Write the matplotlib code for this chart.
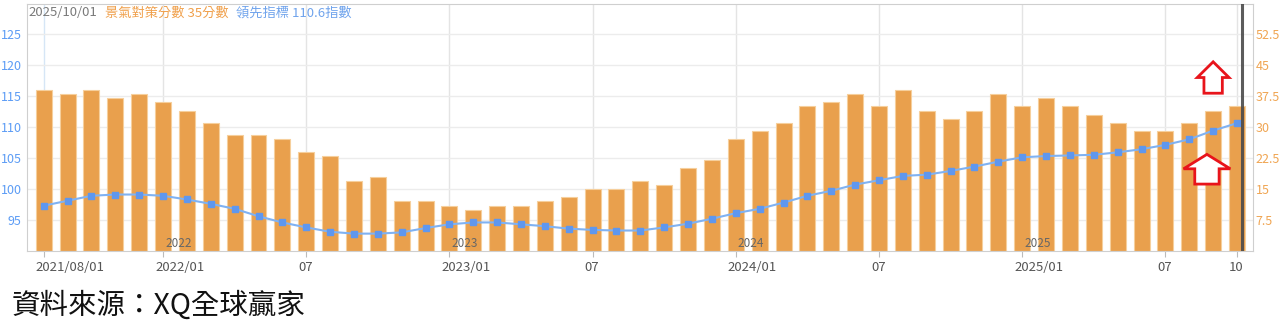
"""Taiwan business-cycle score (bars) vs leading index (line), 2021/08 - 2025/10."""
import matplotlib

matplotlib.use("Agg")
import matplotlib.pyplot as plt
from matplotlib.patches import Polygon
from matplotlib.transforms import ScaledTranslation

plt.rcParams["font.family"] = ["Noto Sans CJK TC", "DejaVu Sans"]

# monthly values, 2021/08 .. 2025/10
scores = [39, 38, 39, 37, 38, 36, 34, 31, 28, 28, 27, 24, 23,
          17, 18, 12, 12, 11, 10, 11, 11, 12, 13, 15, 15, 17,
          16, 20, 22, 27, 29, 31, 35, 36, 38, 35, 39, 34,
          32, 34, 38, 35, 37, 35, 33, 31, 29, 29, 31, 34, 35]
leading = [97.3, 98.1, 98.9, 99.1, 99.1, 98.9, 98.3, 97.6, 96.8, 95.6, 94.6, 93.8, 93.1,
           92.8, 92.8, 93.0, 93.7, 94.3, 94.6, 94.6, 94.3, 94.0, 93.6, 93.4, 93.3, 93.3,
           93.8, 94.4, 95.2, 96.1, 96.8, 97.8, 98.9, 99.7, 100.7, 101.4, 102.1, 102.3,
           102.9, 103.6, 104.4, 105.1, 105.3, 105.4, 105.5, 105.9, 106.4, 107.1, 108.0, 109.4, 110.6]

tick_pos = [0, 5, 11, 17, 23, 29, 35, 41, 47, 50]
tick_labels = ["2021/08/01", "2022/01", "07", "2023/01", "07", "2024/01", "07", "2025/01", "07", "10"]
year_pos = [5, 17, 29, 41]
year_labels = ["2022", "2023", "2024", "2025"]
left_ticks = [95, 100, 105, 110, 115, 120, 125]
right_ticks = [7.5, 15, 22.5, 30, 37.5, 45, 52.5]

BAR = "#e9a04d"
LINE = "#80b2f2"
MARK = "#5f97ee"
RED = "#e8141b"


def up_arrow(ax, xc, y_bot, y_top, head_w, shaft_w, head_h):
    """outlined up arrow in data coords of ax"""
    yb = y_top - head_h
    pts = [(xc - shaft_w / 2, y_bot), (xc - shaft_w / 2, yb), (xc - head_w / 2, yb),
           (xc, y_top), (xc + head_w / 2, yb), (xc + shaft_w / 2, yb), (xc + shaft_w / 2, y_bot)]
    ax.add_patch(Polygon(pts, closed=True, facecolor="white", edgecolor=RED,
                         lw=2, zorder=6, clip_on=False))


fig = plt.figure(figsize=(12.8, 3.35), dpi=100)
ax = fig.add_axes([27 / 1280, 84 / 335, 1226 / 1280, 247 / 335])
ax2 = ax.twinx()   # twinx resets tick sides, so set them afterwards
x = list(range(len(scores)))

# bars: score, right-hand scale
ax.bar(x, scores, width=0.67, color=BAR, edgecolor="#f6cf9c", linewidth=0.8, zorder=2)
ax.set_xlim(-0.7, 50.67)
ax.set_ylim(0, 59.8)
ax.yaxis.tick_right()
ax.set_yticks(right_ticks, [f"{v:g}" for v in right_ticks])
ax.tick_params(axis="y", length=0, pad=2, labelsize=9, labelcolor="#f0a552")
ax.set_xticks(tick_pos, tick_labels)
ax.tick_params(axis="x", length=4, color="#bbbbbb", pad=3, labelsize=9.5, labelcolor="#555555")
off = ScaledTranslation(-8 / 100, 0, fig.dpi_scale_trans)
for lab in ax.get_xticklabels():
    lab.set_horizontalalignment("left")
    lab.set_transform(lab.get_transform() + off)
ax.grid(axis="y", color="#ececec", lw=1)
ax.grid(axis="x", color="#e4e4e4", lw=1)
ax.get_xgridlines()[0].set_color("#d6e6f6")
ax.set_axisbelow(True)
for s in ax.spines.values():
    s.set_color("#cfcfcf")

for p, s in zip(year_pos, year_labels):
    ax.annotate(s, (p, 0), xytext=(1.5, 0.5), textcoords="offset points",
                ha="left", va="bottom", fontsize=8.5, color="#666666", zorder=4)

# line: leading index, left-hand scale
ax2.plot(x, leading, color=LINE, lw=1.5, marker="s", ms=5, mfc=MARK, mec=MARK, zorder=3)
ax2.set_ylim(90, 129.8)
ax2.yaxis.tick_left()
ax2.set_yticks(left_ticks)
ax2.tick_params(axis="y", length=0, pad=4, labelsize=9, labelcolor="#5c9cf5")
for s in ax2.spines.values():
    s.set_visible(False)

# cursor on the latest month
ax2.axvline(len(scores) - 1 + 0.22, color="#4a4a4a", lw=2.2, alpha=0.9, zorder=5)

up_arrow(ax, 49.0, 38.2, 45.8, 1.33, 0.77, 3.8)
up_arrow(ax, 48.74, 16.2, 23.4, 1.96, 1.02, 3.5)

ax2.text(0.001, 0.964, "2025/10/01", transform=ax2.transAxes, va="center",
         fontsize=9.5, color="#7a7a7a")
ax2.text(0.0636, 0.964, f"景氣對策分數 {scores[-1]}分數", transform=ax2.transAxes, va="center",
         fontsize=9.5, color="#f0a04b")
ax2.text(0.1705, 0.964, f"領先指標 {leading[-1]}指數", transform=ax2.transAxes, va="center",
         fontsize=9.5, color="#6fa3ec")

fig.text(12 / 1280, 0.087, "資料來源：XQ全球贏家", fontsize=20.5, va="center", color="#111111")

fig.savefig("out.png", dpi=100)
